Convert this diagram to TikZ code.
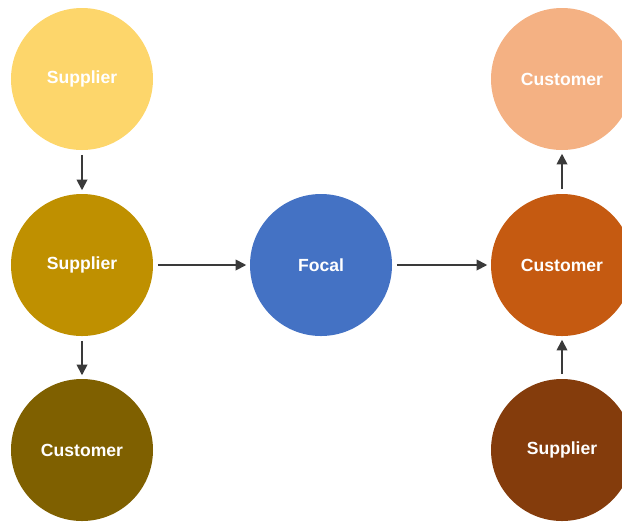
\documentclass[tikz,border=0pt]{standalone}
\usepackage{fontspec}
\setmainfont{Liberation Sans}
\usetikzlibrary{arrows.meta}
\definecolor{supA}{HTML}{FDD66B}
\definecolor{supB}{HTML}{BF9000}
\definecolor{cusA}{HTML}{7F6000}
\definecolor{focal}{HTML}{4472C4}
\definecolor{cusB}{HTML}{F4B183}
\definecolor{cusC}{HTML}{C55A11}
\definecolor{supC}{HTML}{843C0C}
\definecolor{arr}{HTML}{3A3A3A}
\tikzset{
  firm/.style={circle, minimum size=4.26cm, inner sep=0pt, text=white,
    font=\fontsize{15}{17}\selectfont\bfseries},
  flow/.style={-{Triangle[length=9pt,width=9pt]}, draw=arr, line width=1.5pt,
    shorten <=4pt, shorten >=3pt}
}
\begin{document}
\begin{tikzpicture}[x=0.03cm,y=-0.03cm]
		\useasboundingbox (0,0) rectangle (622,521);
		\node (Su) at (82,79)   [firm, fill=supA] {Supplier};
		\node (Sm) at (82,265)  [firm, fill=supB] {Supplier};
		\node (Cl) at (82,450)  [firm, fill=cusA] {Customer};
		\node (Fo) at (321,265) [firm, fill=focal] {Focal};
		\node (Cu) at (562,79)  [firm, fill=cusB] {Customer};
		\node (Cm) at (562,265) [firm, fill=cusC] {Customer};
		\node (Sr) at (562,450) [firm, fill=supC] {Supplier};
		\draw[flow] (Su) -- (Sm);
		\draw[flow] (Sm) -- (Cl);
		\draw[flow] (Sm) -- (Fo);
		\draw[flow] (Fo) -- (Cm);
		\draw[flow] (Cm) -- (Cu);
		\draw[flow] (Sr) -- (Cm);
	\end{tikzpicture}
\end{document}
